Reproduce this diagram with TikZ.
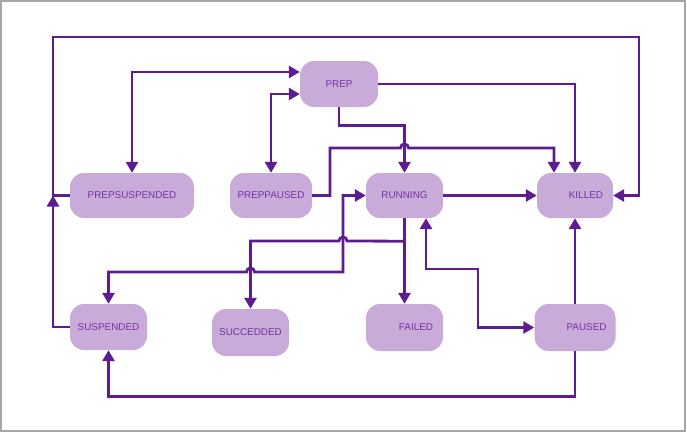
\documentclass[tikz,border=0pt]{standalone}
\usepackage{fontspec}
\setmainfont{Liberation Sans}
\usetikzlibrary{arrows.meta}
\definecolor{lilac}{HTML}{C9ABD9}
\definecolor{plum}{HTML}{5E1C92}
\definecolor{plumtext}{HTML}{7433A6}
\begin{document}
\begin{tikzpicture}[x=1pt,y=-1pt,
    state/.style={fill=lilac,rounded corners=14pt,minimum height=46pt,
        text=plumtext,font=\fontsize{9.9}{12}\selectfont,inner sep=0pt},
    stater/.style={state,align=right,inner xsep=10pt},
    arr/.style={draw=plum,line width=2.8pt,-{Triangle[length=11pt,width=12pt]}},
    arr2/.style={arr,{Triangle[length=11pt,width=12pt]}-{Triangle[length=11pt,width=12pt]}}]
    \useasboundingbox (0,0) rectangle (687,432);
    \draw[gray!70,line width=1.5pt] (1,1) rectangle (685,431);
    % states
    \node[state,minimum width=78pt] (prep) at (339,84) {PREP};
    \node[state,minimum width=124pt,minimum height=45pt] (prepsusp) at (132,195.5) {PREPSUSPENDED};
    \node[state,minimum width=82pt,minimum height=45pt] (preppaused) at (271,195.5) {PREPPAUSED};
    \node[state,minimum width=77pt,minimum height=45pt] (running) at (404.5,195.5) {RUNNING};
    \node[stater,text width=56pt,minimum height=45pt] (killed) at (575,195.5) {KILLED};
    \node[state,minimum width=77pt] (suspended) at (108.5,327) {SUSPENDED};
    \node[state,minimum width=77pt,minimum height=47pt] (succ) at (250.5,332.5) {SUCCEDDED};
    \node[stater,text width=57pt,minimum height=47pt] (failed) at (404.5,327.5) {FAILED};
    \node[stater,text width=63pt,inner xsep=9pt,minimum height=47pt] (paused) at (575,327.5) {PAUSED};
    \coordinate (jn) at (53,195.5);
    % transitions
    \draw[arr] (prepsusp.west) -- (jn) |- (639,37) |- (killed.east);
    \draw[arr] (suspended.west) -| (jn);
    \draw[arr2] (prepsusp.north) |- (prep.west |- 0,72);
    \draw[arr2] (preppaused.north) |- (prep.west |- 0,94);
    \draw[arr] (prep.south) -- ++(0,18) -| (running.north);
    \draw[arr] (prep.east) -| (killed.north);
    \draw[arr] (preppaused.east) -- (330,195.5) -- (330,148) -- (400.5,148)
        arc[start angle=180,end angle=360,radius=4] -- (554,148) -- (killed.north -| 554,0);
    \draw[arr] (running.east) -- (killed.west);
    \draw[arr] (paused.north) -- (killed.south);
    \draw[arr2] (running.south -| 426,0) |- (478,269) |- (paused.west);
    \draw[arr] (paused.south) -- ++(0,45) -| (suspended.south);
    \draw[arr] (running.south) -- (failed.north);
    \draw[arr] (running.south) -- ++(0,23) -- (347,241)
        arc[start angle=0,end angle=-180,radius=4] -| (succ.north);
    \draw[arr2] (suspended.north) |- (246.5,272) arc[start angle=180,end angle=360,radius=4]
        -- (343,272) |- (running.west);
\end{tikzpicture}
\end{document}
